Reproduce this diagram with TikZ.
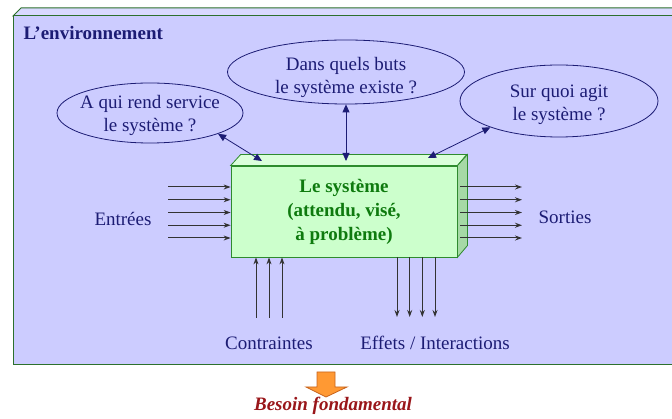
\documentclass[tikz,border=0pt]{standalone}
\usepackage{fontspec}
\setmainfont{Liberation Serif}
\usetikzlibrary{arrows.meta,shapes.geometric}
\definecolor{envColor}{HTML}{CCCCFF}
\definecolor{envLine}{HTML}{2D702D}
\definecolor{textColor}{HTML}{1C1C74}
\definecolor{sysColor}{HTML}{CCFFCC}
\definecolor{sysSide}{HTML}{A6D9A6}
\definecolor{sysLine}{HTML}{2E8B2E}
\definecolor{sysText}{HTML}{0E7A0E}
\definecolor{needColor}{HTML}{FF9933}
\definecolor{needLine}{HTML}{C8641E}
\definecolor{needText}{HTML}{99161A}
\begin{document}
\begin{tikzpicture}[x=1pt,y=-1pt,
  every node/.style={font=\fontsize{19}{23}\selectfont,text=textColor},
  question/.style={ellipse,draw=textColor,line width=0.8pt,inner sep=0pt},
  sysbox/.style={draw=sysLine,fill=sysColor,line width=0.8pt,minimum width=226pt,minimum height=91pt,
    inner sep=0pt,align=center,text=sysText,font=\fontsize{19}{24}\selectfont\bfseries},
  link/.style={draw=textColor,line width=0.8pt,{Triangle[length=8pt,width=7pt]}-{Triangle[length=8pt,width=7pt]}},
  flow/.style={draw=black!80,line width=1pt,-{Stealth[length=7pt,width=5pt]}}]
\useasboundingbox (0,0) rectangle (672,419);
\clip (0,0) rectangle (672,419);
\filldraw[fill=envColor!75!white,draw=envLine,line width=1pt] (13,16) -- (21,8) -- (690,8) -- (682,16) -- cycle;
\filldraw[fill=envColor,draw=envLine,line width=1pt] (13,16) rectangle (682,365);
\node[anchor=west,font=\fontsize{19}{23}\selectfont\bfseries] (env) at (20,33) {L’environnement};

\node[sysbox] (sys) at (344,211.5) {Le système\\(attendu, visé,\\à problème)};
\filldraw[fill=sysColor!70!white,draw=sysLine,line width=0.8pt] (sys.north west) -- ++(10,-11) -- ++(226,0) -- (sys.north east) -- cycle;
\filldraw[fill=sysSide,draw=sysLine,line width=0.8pt] (sys.north east) -- ++(10,-11) -- ++(0,91) -- (sys.south east) -- cycle;

\node[question,minimum width=186pt,minimum height=60pt,
  label={[align=center,yshift=-2pt]center:{A qui rend service\\le système ?}}] (serve) at (150,113) {};
\node[question,minimum width=237pt,minimum height=64pt,
  label={[align=center,yshift=-5pt]center:{Dans quels buts\\le système existe ?}}] (goal) at (346,72) {};
\node[question,minimum width=198pt,minimum height=72pt,
  label={[align=center,yshift=-4pt]center:{Sur quoi agit\\le système ?}}] (act) at (559,101) {};

\coordinate (top1) at (262,161);
\coordinate (top2) at (346,161);
\coordinate (top3) at (428,158);
\draw[link] (serve.343) -- (top1);
\draw[link] (goal) -- (top2);
\draw[link] (act.201) -- (top3);

\foreach \y in {187,199.75,212.5,225.25,238}{
  \coordinate (in) at (168,\y);
  \coordinate (out) at (522,\y);
  \draw[flow] (in) -- (in -| sys.west);
  \draw[flow] ([xshift=3pt]out -| sys.east) -- (out);
}
\foreach \x in {256,269,282}{
  \coordinate (lim) at (\x,318);
  \draw[flow] (lim) -- (lim |- sys.south);
}
\foreach \x in {397,409.7,422.3,435}{
  \coordinate (eff) at (\x,317);
  \draw[flow] (eff |- sys.south) -- (eff);
}

\node (entries) at (123,219) {Entrées};
\node (exits) at (565,217) {Sorties};
\node (limits) at (269,343) {Contraintes};
\node (effects) at (435,343) {Effets / Interactions};

\filldraw[fill=needColor,draw=needLine,line width=0.8pt] (317,372) -- (335,372) -- (335,387) -- (347,387)
  -- (326,397) -- (306,387) -- (317,387) -- cycle;
\node[font=\fontsize{19}{23}\selectfont\bfseries\itshape,text=needText] (need) at (333,406) {Besoin fondamental};
\end{tikzpicture}
\end{document}
